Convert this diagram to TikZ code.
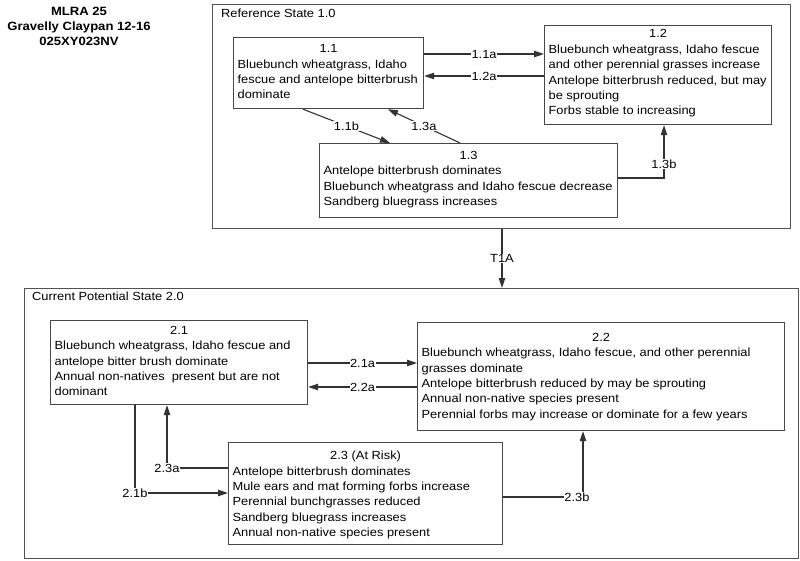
\documentclass[tikz,border=0pt]{standalone}
\usepackage{fontspec}
\setmainfont{Liberation Sans}[FakeStretch=1.09]
\usetikzlibrary{arrows.meta,calc}
\newcommand\stcontent[5]{\parbox[t][#2pt][t]{#1pt}{\vspace*{#3pt}\centering #4\par\raggedright #5\par}}
\begin{document}
\begin{tikzpicture}[x=1pt,y=-1pt,
  font=\fontsize{11.8}{15.4}\selectfont,
  stbox/.style={draw=black!72, line width=1.2pt, inner xsep=4pt, inner ysep=0pt, anchor=north west},
  frame/.style={draw=black!68, line width=1.2pt, inner sep=0pt, anchor=north west},
  arr/.style={draw=black!80, line width=1.1pt, -{Triangle[length=10pt,width=6.5pt]}},
  lbl/.style={fill=white, inner sep=0.5pt}]
\useasboundingbox (0,0) rectangle (800,560);

\node (hdr) [align=center, font=\bfseries\fontsize{12}{15}\selectfont] at (79,26) {MLRA 25\\Gravelly Claypan 12-16\\025XY023NV};

\node (ref) [frame, minimum width=578pt, minimum height=224pt] at (212,4) {};
\node (refl) [anchor=north west, inner sep=0pt] at (221,9) {Reference State 1.0};
\node (cps) [frame, minimum width=774pt, minimum height=270pt] at (24,288) {};
\node (cpsl) [anchor=north west, inner sep=0pt] at (32,292) {Current Potential State 2.0};

\node (b11) [stbox] at (233,37) {\stcontent{182}{71}{7}{1.1}{Bluebunch wheatgrass, Idaho\\fescue and antelope bitterbrush\\dominate}};
\node (b12) [stbox] at (544,25) {\stcontent{219}{99}{4}{1.2}{Bluebunch wheatgrass, Idaho fescue\\and other perennial grasses increase\\Antelope bitterbrush reduced, but may\\be sprouting\\Forbs stable to increasing}};
\node (b13) [stbox] at (319,143) {\stcontent{290}{74}{7.5}{1.3}{Antelope bitterbrush dominates\\Bluebunch wheatgrass and Idaho fescue decrease\\Sandberg bluegrass increases}};
\node (b21) [stbox] at (50,320) {\stcontent{249}{84}{5.5}{2.1}{Bluebunch wheatgrass, Idaho fescue and\\antelope bitter brush dominate\\Annual non-natives~ present but are not\\dominant}};
\node (b22) [stbox] at (417,322) {\stcontent{359}{108}{10.5}{2.2}{Bluebunch wheatgrass, Idaho fescue, and other perennial\\grasses dominate\\Antelope bitterbrush reduced by may be sprouting\\Annual non-native species present\\Perennial forbs may increase or dominate for a few years}};
\node (b23) [stbox] at (228,442) {\stcontent{266}{102}{8.5}{2.3 (At Risk)}{Antelope bitterbrush dominates\\Mule ears and mat forming forbs increase\\Perennial bunchgrasses reduced\\Sandberg bluegrass increases\\Annual non-native species present}};

% state 1 transitions
\draw[arr] ([yshift=-17pt]b11.north east) -- node[lbl] (l11a) {1.1a} ([yshift=-17pt]b11.north east -| b12.west);
\draw[arr] ([yshift=-51pt]b12.north west) -- node[lbl] (l12a) {1.2a} ([yshift=-51pt]b12.north west -| b11.east);
\draw[arr] ([xshift=70pt]b11.south west) -- node[lbl] (l11b) {1.1b} ([xshift=71pt]b13.north west);
\draw[arr] ([xshift=141pt]b13.north west) -- node[lbl] (l13a) {1.3a} ([xshift=155pt]b11.south west);
\draw[arr] ([yshift=-35pt]b13.north east) -| node[lbl, pos=0.63] (l13b) {1.3b} ([xshift=120pt]b12.south west);

% transition
\draw[arr] ([xshift=290pt]ref.south west) -- node[lbl] (lt1a) {T1A} ([xshift=290pt]ref.south west |- cps.north);

% state 2 transitions
\draw[arr] ([yshift=-43pt]b21.north east) -- node[lbl] (l21a) {2.1a} ([yshift=-43pt]b21.north east -| b22.west);
\draw[arr] ([yshift=-65pt]b22.north west) -- node[lbl] (l22a) {2.2a} ([yshift=-65pt]b22.north west -| b21.east);
\draw[arr] ([yshift=-26pt]b23.north west) -| node[lbl, pos=0.5] (l23a) {2.3a} ([xshift=117pt]b21.south west);
\draw[arr] ([xshift=85pt]b21.south west) |- node[lbl, pos=0.5] (l21b) {2.1b} ([yshift=-51pt]b23.north west);
\draw[arr] ([yshift=-55pt]b23.north east) -| node[lbl, pos=0.5, xshift=-6pt] (l23b) {2.3b} ([xshift=166pt]b22.south west);
\end{tikzpicture}
\end{document}
